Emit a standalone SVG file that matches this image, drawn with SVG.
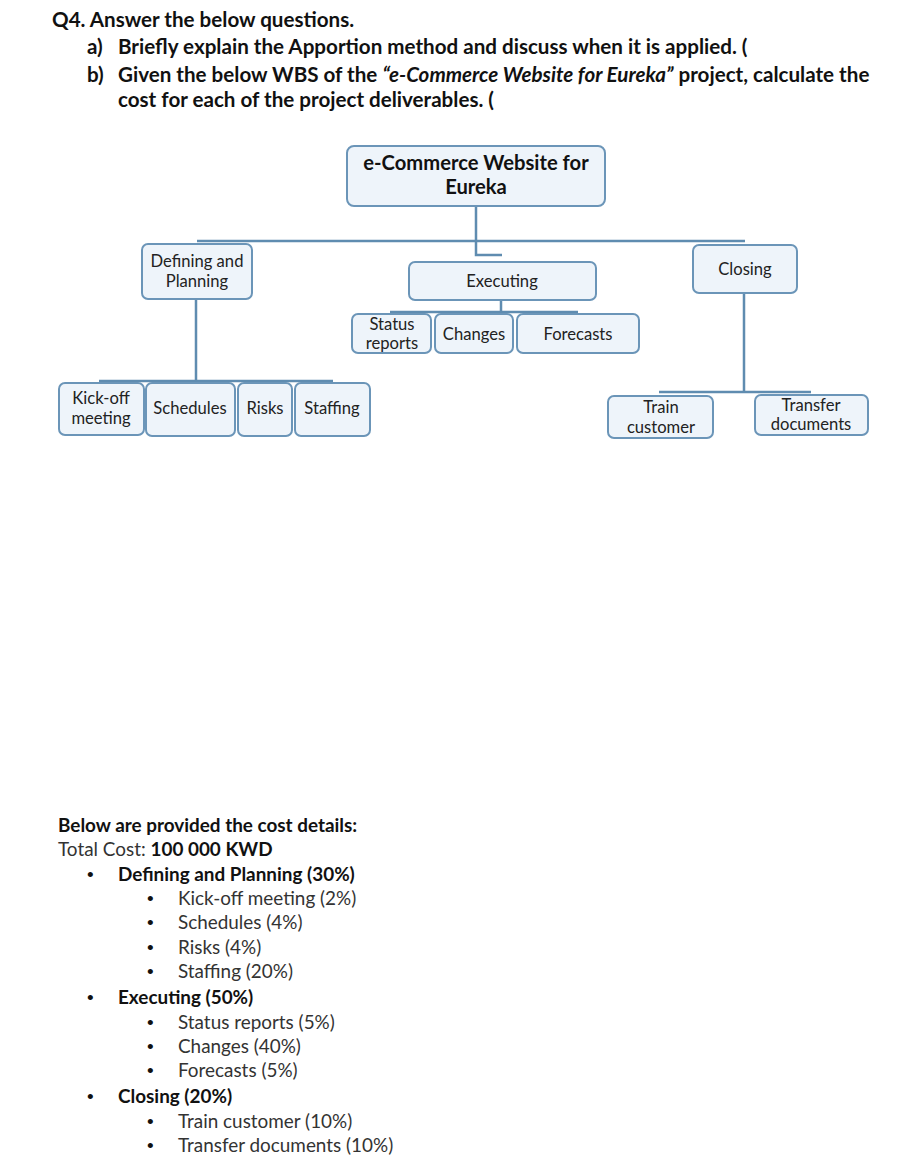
<svg xmlns="http://www.w3.org/2000/svg" width="904" height="1165" viewBox="0 0 904 1165">
<style>
.q{font-family:Lato,"Liberation Sans",sans-serif;font-size:20.6px;font-weight:bold;fill:#111}
.t{font-family:Lato,"Liberation Sans",sans-serif;font-size:18.9px;fill:#333}
.b{font-weight:bold;fill:#111}
.d{font-family:"Liberation Sans",sans-serif;font-size:19px;fill:#111}
.box{fill:#eef4fa;stroke:#6b95b8;stroke-width:2}
.n{font-family:Lato,"Liberation Sans",sans-serif;font-size:16.6px;fill:#222;text-anchor:middle}
.r{font-size:20.2px;font-weight:bold;fill:#111}
.c{stroke:#5f8cb0;stroke-width:2.5;fill:none}
</style>
<rect width="904" height="1165" fill="#fff"/>
<g id="question">
<text class="q" x="52" y="27">Q4. Answer the below questions.</text>
<text class="q" x="87" y="54">a)</text>
<text class="q" x="118" y="54">Briefly explain the Apportion method and discuss when it is applied. (</text>
<text class="q" x="87" y="82">b)</text>
<text class="q" x="118" y="82">Given the below WBS of the <tspan font-style="italic">“e-Commerce Website for Eureka”</tspan> project, calculate the</text>
<text class="q" x="118" y="107">cost for each of the project deliverables. (</text>
</g>
<g id="connectors">
<path class="c" d="M476 206V255H502M197 241H745"/>
<path class="c" d="M196 299V381M99 381H333"/>
<path class="c" d="M501 300V312M390 312H578"/>
<path class="c" d="M744 293V392M659 392H811"/>
</g>
<g id="root"><rect class="box" x="347" y="146" width="258" height="60" rx="7"/><text class="n r" x="476" y="170">e-Commerce Website for</text><text class="n r" x="476" y="194">Eureka</text></g>
<g id="defining"><rect class="box" x="142" y="244" width="110" height="55" rx="6"/><text class="n" x="197" y="267">Defining and</text><text class="n" x="197" y="287">Planning</text></g>
<g id="executing"><rect class="box" x="409" y="262" width="187" height="38" rx="6"/><text class="n" x="502" y="287">Executing</text></g>
<g id="closing"><rect class="box" x="693" y="245" width="104" height="48" rx="6"/><text class="n" x="745" y="275">Closing</text></g>
<g id="kickoff"><rect class="box" x="59" y="383" width="85" height="52" rx="6"/><text class="n" x="101" y="404">Kick-off</text><text class="n" x="101" y="424">meeting</text></g>
<g id="schedules"><rect class="box" x="146" y="383" width="89" height="53" rx="6"/><text class="n" x="190" y="414">Schedules</text></g>
<g id="risks"><rect class="box" x="238" y="383" width="54" height="53" rx="6"/><text class="n" x="265" y="414">Risks</text></g>
<g id="staffing"><rect class="box" x="295" y="383" width="75" height="53" rx="6"/><text class="n" x="332" y="414">Staffing</text></g>
<g id="status"><rect class="box" x="352" y="314" width="79" height="39" rx="6"/><text class="n" x="392" y="330">Status</text><text class="n" x="392" y="349">reports</text></g>
<g id="changes"><rect class="box" x="435" y="314" width="78" height="39" rx="6"/><text class="n" x="474" y="340">Changes</text></g>
<g id="forecasts"><rect class="box" x="517" y="314" width="122" height="39" rx="6"/><text class="n" x="578" y="340">Forecasts</text></g>
<g id="train"><rect class="box" x="608" y="396" width="105" height="42" rx="6"/><text class="n" x="661" y="413">Train</text><text class="n" x="661" y="433">customer</text></g>
<g id="transfer"><rect class="box" x="755" y="395" width="113" height="40" rx="6"/><text class="n" x="811" y="411">Transfer</text><text class="n" x="811" y="430">documents</text></g>
<g id="costs">
<text class="t b" x="58" y="832">Below are provided the cost details:</text>
<text class="t" x="58" y="856">Total Cost: <tspan class="b">100 000 KWD</tspan></text>
<text class="d" x="87" y="881">•</text><text class="t b" x="118" y="881">Defining and Planning (30%)</text>
<text class="d" x="147" y="905">•</text><text class="t" x="178" y="905">Kick-off meeting (2%)</text>
<text class="d" x="147" y="929">•</text><text class="t" x="178" y="929">Schedules (4%)</text>
<text class="d" x="147" y="954">•</text><text class="t" x="178" y="954">Risks (4%)</text>
<text class="d" x="147" y="978">•</text><text class="t" x="178" y="978">Staffing (20%)</text>
<text class="d" x="87" y="1004">•</text><text class="t b" x="118" y="1004">Executing (50%)</text>
<text class="d" x="147" y="1029">•</text><text class="t" x="178" y="1029">Status reports (5%)</text>
<text class="d" x="147" y="1053">•</text><text class="t" x="178" y="1053">Changes (40%)</text>
<text class="d" x="147" y="1077">•</text><text class="t" x="178" y="1077">Forecasts (5%)</text>
<text class="d" x="87" y="1103">•</text><text class="t b" x="118" y="1103">Closing (20%)</text>
<text class="d" x="147" y="1128">•</text><text class="t" x="178" y="1128">Train customer (10%)</text>
<text class="d" x="147" y="1152">•</text><text class="t" x="178" y="1152">Transfer documents (10%)</text>
</g>
</svg>
